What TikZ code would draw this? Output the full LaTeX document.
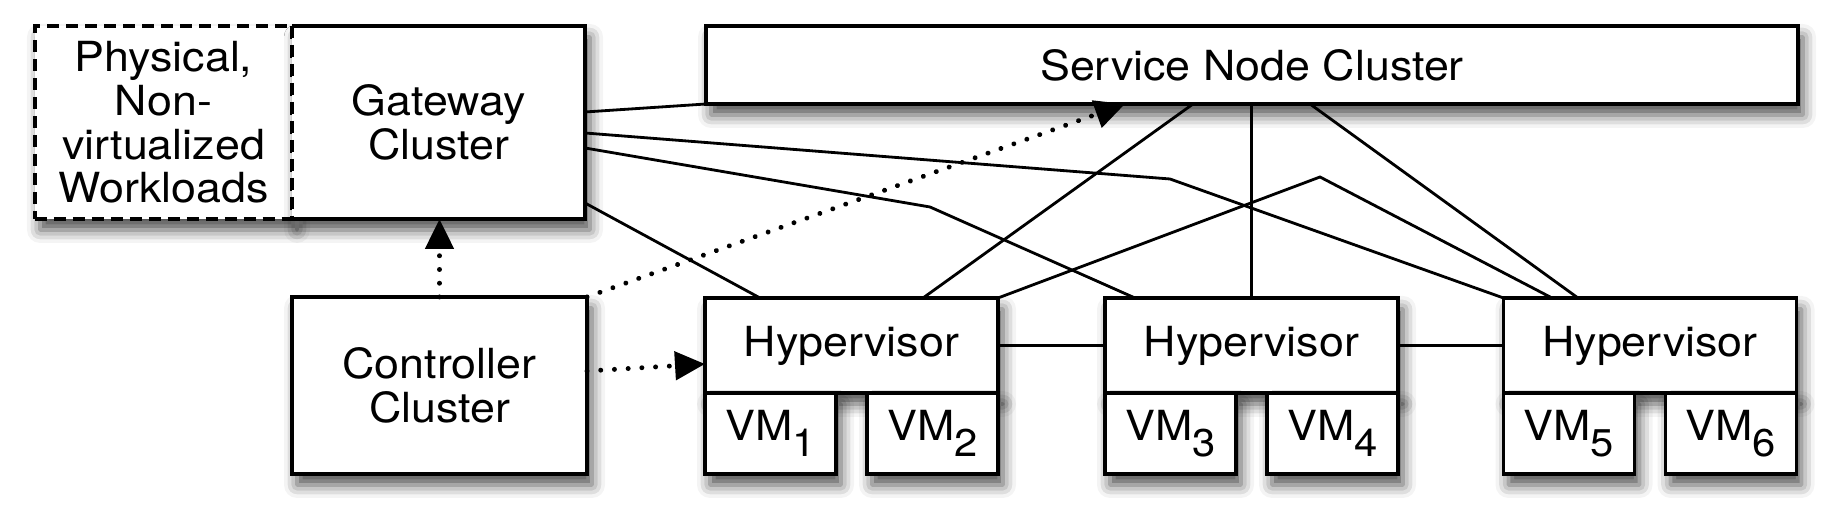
\documentclass[tikz,border=0pt]{standalone}
\usepackage{fontspec}
\setmainfont{TeX Gyre Heros}[FakeStretch=1.08]
\usepackage{tikz}
\usetikzlibrary{positioning,arrows.meta,calc,shadows.blur}
\newcommand{\vmsub}[1]{\raisebox{-0.75ex}{\fontsize{11}{11}\selectfont #1}}

\begin{document}
\begin{tikzpicture}[
    cbox/.style={draw=black, line width=0.9pt, fill=white, inner sep=0pt, outer sep=0pt, align=center, font=\fontsize{11.8}{12.4}\selectfont,
      blur shadow={shadow xshift=0.5mm, shadow yshift=-1.1mm, shadow blur radius=1.3mm, shadow opacity=70}},
    hbox/.style={cbox, minimum width=2.93cm, minimum height=0.95cm},
    vmbox/.style={cbox, minimum width=1.31cm, minimum height=0.81cm},
    wire/.style={line width=0.8pt, draw=black},
    ctl/.style={line width=1.4pt, line cap=round, dash pattern=on 0.01pt off 3.9pt, -{Triangle[length=3mm, width=2.8mm]}}]
  \useasboundingbox (0,0) rectangle (18.32,-5.18);
  \node[cbox, dash pattern=on 3.4pt off 2pt, minimum width=2.57cm, minimum height=1.93cm] (phys) at (1.635,-1.225) {Physical,\\ Non-\\ virtualized\\ Workloads};
  \node[cbox, draw=none, minimum width=2.93cm, minimum height=1.93cm] (gw) at (4.385,-1.225) {Gateway\\ Cluster};
  \draw[line width=0.9pt] (gw.north west) -- (gw.north east) -- (gw.south east) -- (gw.south west);
  \draw[line width=0.9pt, dash pattern=on 3.4pt off 2pt] (gw.north west) -- (gw.south west);
  \node[cbox, minimum width=10.92cm, minimum height=0.78cm] (svc) at (12.52,-0.65) {Service Node Cluster};
  \node[cbox, minimum width=2.95cm, minimum height=1.77cm] (ctrl) at (4.395,-3.855) {Controller\\ Cluster};
  \foreach \x/\n/\a/\b in {8.515/1/1/2, 12.515/2/3/4, 16.5/3/5/6}{
    \node[hbox] (hyp\n) at (\x,-3.455) {Hypervisor};
    \node[vmbox, anchor=north west] (vm\a) at (hyp\n.south west) {VM\vmsub{\a}};
    \node[vmbox, anchor=north east] (vm\b) at (hyp\n.south east) {VM\vmsub{\b}};
  }
  \draw[wire] (gw.east |- 0,-1.12) -- (svc.south west);
  \draw[wire] (gw.east |- 0,-1.33) -- (11.70,-1.79) -- (hyp3.north west);
  \draw[wire] (gw.east |- 0,-1.48) -- (9.30,-2.07) -- (hyp2.north -| 11.35,0);
  \draw[wire] (gw.east |- 0,-2.03) -- (hyp1.north -| 7.60,0);
  \draw[wire] (svc.south -| 11.93,0) -- (hyp1.north -| 9.23,0);
  \draw[wire] (svc.south -| hyp2.north) -- (hyp2.north);
  \draw[wire] (svc.south -| 13.10,0) -- (hyp3.north -| 15.78,0);
  \draw[wire] (hyp1.north east) -- (13.20,-1.77) -- (hyp3.north -| 15.52,0);
  \draw[wire] (hyp1.east) -- (hyp2.west);
  \draw[wire] (hyp2.east) -- (hyp3.west);
  \draw[ctl] (ctrl.north) -- (gw.south -| ctrl.north);
  \draw[ctl] (ctrl.north east) -- (svc.south -| 11.25,0);
  \draw[ctl] (ctrl.east |- 0,-3.71) -- (hyp1.west |- 0,-3.64);
\end{tikzpicture}
\end{document}
